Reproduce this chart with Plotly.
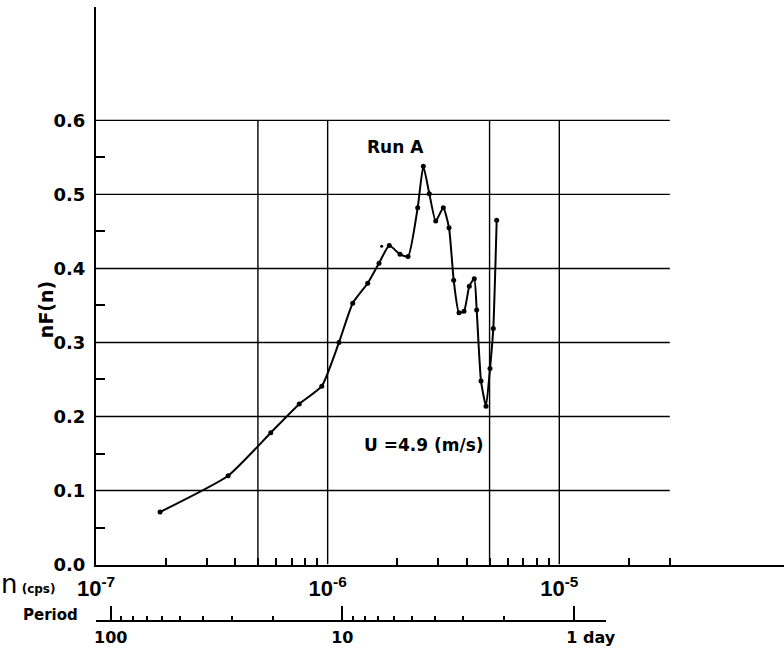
import numpy as np
import plotly.graph_objects as go

# ---- data ----
n_cps = [1.89e-7, 3.72e-7, 5.68e-7, 7.54e-7, 9.43e-7, 1.119e-6, 1.283e-6, 1.489e-6,
         1.666e-6, 1.845e-6, 2.053e-6, 2.223e-6, 2.447e-6, 2.588e-6, 2.747e-6, 2.927e-6,
         3.157e-6, 3.341e-6, 3.501e-6, 3.690e-6, 3.878e-6, 4.088e-6, 4.295e-6, 4.399e-6,
         4.592e-6, 4.826e-6, 5.022e-6, 5.189e-6, 5.367e-6]
nF_n = [0.071, 0.120, 0.178, 0.217, 0.241, 0.300, 0.353, 0.380,
        0.407, 0.431, 0.419, 0.416, 0.482, 0.538, 0.501, 0.464,
        0.482, 0.455, 0.384, 0.340, 0.342, 0.376, 0.386, 0.344,
        0.248, 0.214, 0.265, 0.319, 0.465]
stray_n = [1.711e-6]
stray_v = [0.430]

x_major_ticks = [1e-7, 1e-6, 1e-5]
x_major_text = ["10<sup>-7</sup>", "10<sup>-6</sup>", "10<sup>-5</sup>"]
x_minor_ticks = [m * d for d in (1e-7, 1e-6) for m in range(2, 10)] + [2e-5, 3e-5]

y_major_ticks = [0.0, 0.1, 0.2, 0.3, 0.4, 0.5, 0.6]
y_major_text = ["0.0", "0.1", "0.2", "0.3", "0.4", "0.5", "0.6"]
y_minor_ticks = [0.05, 0.15, 0.25, 0.35, 0.45, 0.55]

grid_x = [5e-7, 1e-6, 5e-6, 1e-5]
grid_y = [0.1, 0.2, 0.3, 0.4, 0.5, 0.6]
grid_x_extent = [1e-7, 3e-5]
grid_y_extent = [0.0, 0.6]

period_days = [100, 10, 1]
period_text = ["100", "10", "\u00a0\u00a0\u00a0\u00a0\u00a0\u00a01 day"]
period_minor_days = [90, 80, 70, 60, 50, 40, 30, 20, 9, 8, 7, 6, 5, 4, 3, 2]

SEC_PER_DAY = 86400.0
period_n = [1.0 / (d * SEC_PER_DAY) for d in period_days]
period_minor_n = [1.0 / (d * SEC_PER_DAY) for d in period_minor_days]

FONT = "DejaVu Sans"

fig = go.Figure()

# grid lines (finite extent as in the reference)
gx, gy = [], []
for g in grid_x:
    gx += [g, g, None]
    gy += [grid_y_extent[0], grid_y_extent[1], None]
for g in grid_y:
    gx += [grid_x_extent[0], grid_x_extent[1], None]
    gy += [g, g, None]
fig.add_trace(go.Scatter(x=gx, y=gy, mode="lines", line=dict(color="black", width=1.4),
                         hoverinfo="skip", showlegend=False))

# main curve
fig.add_trace(go.Scatter(x=n_cps, y=nF_n, mode="lines+markers",
                         line=dict(color="black", width=2, shape="spline", smoothing=0.5),
                         marker=dict(color="black", size=5),
                         showlegend=False, name="Run A"))
fig.add_trace(go.Scatter(x=stray_n, y=stray_v, mode="markers",
                         marker=dict(color="black", size=3), showlegend=False,
                         hoverinfo="skip"))

# invisible trace to carry the period axis
fig.add_trace(go.Scatter(x=period_n, y=[0] * len(period_n), xaxis="x2", yaxis="y",
                         mode="markers", marker=dict(opacity=0), hoverinfo="skip",
                         showlegend=False))

W, H = 784, 655
left, top = 96, 7
x_axis_px = 564.3
period_axis_px = 620.7
px_per_decade = 231.65
px_per_unit_y = 740.0

plot_w = W - left
bottom = H - period_axis_px
plot_h = H - top - bottom
x_range = [-7, -7 + plot_w / px_per_decade]
y_top = (x_axis_px - top) / px_per_unit_y
y_dom0 = (period_axis_px - x_axis_px) / plot_h

period_end_px = 606
p_dom1 = (period_end_px - left) / plot_w
p_range = [-7, -7 + (period_end_px - left) / px_per_decade]


def paper_x(px):
    return (px - left) / plot_w


def paper_y(py):
    return (period_axis_px - py) / plot_h


fig.update_layout(
    width=W, height=H,
    margin=dict(l=left, r=0, t=top, b=bottom, pad=0),
    paper_bgcolor="white", plot_bgcolor="rgba(0,0,0,0)",
    font=dict(family=FONT, color="black"),
    xaxis=dict(
        type="log", range=x_range, domain=[0, 1], anchor="y",
        showline=True, linecolor="black", linewidth=2,
        showgrid=False, zeroline=False, automargin=False,
        tickmode="array", tickvals=x_major_ticks, ticktext=x_major_text,
        ticks="", ticklabelstandoff=3,
        tickfont=dict(family="Liberation Sans", size=22, weight="bold"),
        minor=dict(tickmode="array", tickvals=x_minor_ticks, ticks="inside",
                   ticklen=7, tickwidth=2, tickcolor="black", showgrid=False),
    ),
    xaxis2=dict(
        type="log", range=p_range, domain=[0, p_dom1], anchor="free", position=0,
        showline=True, linecolor="black", linewidth=2,
        showgrid=False, zeroline=False, automargin=False,
        tickmode="array", tickvals=period_n, ticktext=period_text,
        ticks="inside", ticklen=14, tickwidth=2, tickcolor="black",
        ticklabelstandoff=2,
        tickfont=dict(family=FONT, size=16, weight="bold"),
        minor=dict(tickmode="array", tickvals=period_minor_n, ticks="inside",
                   ticklen=4, tickwidth=1.5, tickcolor="black", showgrid=False),
    ),
    yaxis=dict(
        range=[0, y_top], domain=[y_dom0, 1], anchor="x",
        showline=True, linecolor="black", linewidth=2,
        showgrid=False, zeroline=False, automargin=False,
        tickmode="array", tickvals=y_major_ticks, ticktext=y_major_text,
        ticks="", ticklabelstandoff=5,
        tickfont=dict(family=FONT, size=18, weight="bold"),
        minor=dict(tickmode="array", tickvals=y_minor_ticks, ticks="inside",
                   ticklen=9, tickwidth=2, tickcolor="black", showgrid=False),
    ),
)

# annotations
fig.add_annotation(x=np.log10(1.97e-6), y=0.564, xref="x", yref="y",
                   text="Run A", showarrow=False,
                   font=dict(family=FONT, size=17, weight="bold"))
fig.add_annotation(x=np.log10(2.61e-6), y=0.161, xref="x", yref="y",
                   text="U =4.9 (m/s)", showarrow=False,
                   font=dict(family=FONT, size=17, weight="bold"))
fig.add_annotation(x=paper_x(33), y=(x_axis_px - 310) / px_per_unit_y,
                   xref="paper", yref="y", text="nF(n)", textangle=-90,
                   showarrow=False, font=dict(family=FONT, size=19, weight="bold"))
fig.add_annotation(x=paper_x(57), y=paper_y(584), xref="paper", yref="paper",
                   xanchor="right", yanchor="middle",
                   text="<span style='font-size:26px;font-weight:normal'>n</span>"
                        "<span style='font-size:12px'> (cps)</span>",
                   showarrow=False, font=dict(family=FONT, size=12, weight="bold"))
fig.add_annotation(x=paper_x(50), y=paper_y(615), xref="paper", yref="paper",
                   xanchor="center", yanchor="middle",
                   text="Period", showarrow=False,
                   font=dict(family=FONT, size=15, weight="bold"))

fig.write_html("out.html")
